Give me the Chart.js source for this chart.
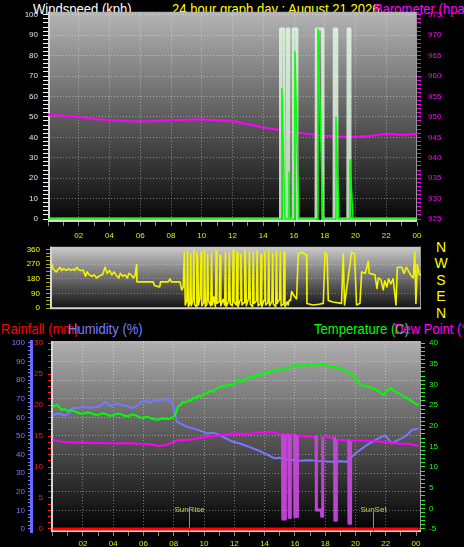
<!DOCTYPE html>
<html>
<head>
<meta charset="utf-8">
<title>24 hour graph</title>
<script src="https://cdn.jsdelivr.net/npm/chart.js@4.4.1/dist/chart.umd.min.js"></script>
<style>
  html, body { margin: 0; padding: 0; background: #000; width: 464px; height: 547px; overflow: hidden; }
  .ttl { position: absolute; z-index: 0; font: 15px/15px "Liberation Sans", Arial, sans-serif; white-space: nowrap; transform: scaleX(0.87); transform-origin: 0 0; }
  canvas { position: absolute; left: 0; z-index: 1; }
  #compass { position: absolute; z-index: 0; left: 433px; top: 239px; width: 16px; text-align: center; font: 14px/16.4px "Liberation Sans", Arial, sans-serif; color: #ffff00; }
</style>
</head>
<body>
<div class="ttl" style="left:33px;top:1px;color:#ffffff">Windspeed (kph)</div>
<div class="ttl" style="left:172px;top:1px;color:#ffff00">24 hour graph day : August 21 2026</div>
<div class="ttl" style="left:374px;top:1px;color:#ff00ff">Barometer (hpa)</div>
<div class="ttl" style="left:1px;top:321px;color:#ff0000">Rainfall (mm)</div>
<div class="ttl" style="left:68px;top:321px;color:#7c7cff">Humidity (%)</div>
<div class="ttl" style="left:314px;top:321px;color:#00ff00">Temperature (C)</div>
<div class="ttl" style="left:394px;top:321px;color:#ff00ff">Dew Point (°C)</div>
<div id="compass">N<br>W<br>S<br>E<br>N</div>

<canvas id="wind" width="464" height="244" style="top:0"></canvas>
<canvas id="direction" width="464" height="84" style="top:236px"></canvas>
<canvas id="temps" width="464" height="231" style="top:316px"></canvas>

<script>
// hours of the day on every x axis
const hourTicks = [0, 1, 2, 3, 4, 5, 6, 7, 8, 9, 10, 11, 12, 13, 14, 15, 16, 17, 18, 19, 20, 21, 22, 23, 24];
const hourLabels = ['', '', '02', '', '04', '', '06', '', '08', '', '10', '', '12', '', '14', '', '16', '', '18', '', '20', '', '22', '', '00'];

// top panel: wind speed, gust, barometer
const windHours = [0, 15.18, 15.21, 15.41, 15.64, 15.67, 15.73, 16.03, 16.06, 16.32, 17.5, 17.56, 17.88, 18.7, 18.73, 18.92, 19.6, 19.64, 19.84, 24];
const windKph = [0, 0, 64, 0, 0, 23, 0, 0, 82, 0, 0, 93, 0, 0, 50, 0, 0, 29, 0, 0];
const gustHours = [0,
  15.10, 15.12, 15.33, 15.35,
  15.54, 15.56, 15.65, 15.67,
  15.93, 15.95, 16.17, 16.19,
  17.43, 17.45, 17.86, 17.88,
  18.60, 18.62, 18.78, 18.80,
  19.50, 19.52, 19.62, 19.64,
  24];
const gustKph = [0,
  0, 93, 93, 0,
  0, 93, 93, 0,
  0, 93, 93, 0,
  0, 93, 93, 0,
  0, 93, 93, 0,
  0, 93, 93, 0,
  0];
const baroHours = [0, 1, 2, 3, 4, 5, 6, 7, 8, 9, 10, 11, 12, 13, 14, 15, 16, 17, 18, 19, 20, 21, 22, 23, 24];
const baroHpa = [950.6, 950.3, 950.0, 949.5, 949.2, 949.0, 948.9, 949.0, 949.2, 949.3, 949.4, 949.2, 949.0,
  948.2, 947.4, 946.8, 946.2, 945.8, 945.4, 945.2, 945.1, 945.4, 945.9, 945.6, 945.8];

// middle panel: wind direction (degrees)
const dirHours = [
  0.05, 0.2, 0.4, 0.55, 0.65, 0.75, 0.9, 1.05, 1.2, 1.35,
  1.5, 1.6, 1.75, 1.85, 2.0, 2.16, 2.3, 2.4, 2.55, 2.7,
  2.85, 3.02, 3.2, 3.4, 3.56, 3.7, 3.85, 4.0, 4.15, 4.3,
  4.45, 4.55, 4.7, 4.85, 5.0, 5.1, 5.25, 5.4, 5.5, 5.6,
  5.62, 6.68, 6.75, 7.1, 7.15, 7.65, 7.76, 7.85, 8.41, 8.52,
  8.62,
  8.69, 8.75, 8.85, 8.9, 8.95, 9.05, 9.1, 9.14, 9.25, 9.3,
  9.35, 9.45, 9.5, 9.56, 9.6, 9.7, 9.78, 9.82, 9.95, 10.0,
  10.05, 10.15, 10.2, 10.25, 10.4, 10.45, 10.5, 10.6, 10.7, 10.75,
  10.8, 10.95, 11.0, 11.05, 11.2, 11.3, 11.35, 11.4, 11.55, 11.6,
  11.66, 11.8, 11.85, 11.9, 12.05, 12.1, 12.16, 12.3, 12.35, 12.42,
  12.55, 12.6, 12.65, 12.7, 12.85, 12.9, 12.96, 13.1, 13.15, 13.2,
  13.35, 13.4, 13.46, 13.6, 13.65, 13.7, 13.85, 13.9, 13.95, 14.1,
  14.15, 14.2, 14.35, 14.4, 14.45, 14.6, 14.65, 14.7, 14.85, 14.9,
  14.95, 15.1, 15.15, 15.2, 15.35, 15.4, 15.48,
  15.56, 15.63, 15.8, 15.95, 16.06, 16.3, 16.6, 16.62, 17.0, 17.4,
  17.68, 17.79, 17.93, 18.0, 18.3, 18.86, 18.97, 19.05, 19.51, 19.7,
  19.83, 20.05, 20.16, 20.4, 20.59, 20.65, 21.02, 21.15, 21.25, 21.4,
  21.56, 21.65, 21.8, 21.9, 22.05, 22.2, 22.38, 22.47, 22.75, 22.9,
  23.05, 23.22, 23.39, 23.5, 23.6, 23.67, 23.76, 23.9, 24.0];
const dirDeg = [
  288, 242, 223, 240, 251, 232, 242, 232, 242, 232,
  240, 232, 251, 235, 232, 232, 196, 223, 205, 196,
  205, 186, 199, 205, 251, 214, 232, 205, 223, 200,
  186, 214, 196, 205, 186, 214, 205, 186, 200, 266,
  162, 162, 140, 131, 162, 162, 181, 162, 162, 113,
  131,
  343, 20, 45, 350, 10, 30, 335, 15, 50, 355,
  25, 10, 340, 300, 20, 60, 345, 15, 35, 350,
  10, 25, 330, 45, 15, 340, 20, 70, 10, 350,
  30, 40, 325, 15, 55, 20, 345, 10, 45, 335,
  25, 15, 355, 40, 20, 340, 10, 50, 330, 20,
  35, 355, 300, 15, 60, 345, 25, 10, 340, 30,
  45, 355, 15, 25, 330, 10, 50, 345, 20, 35,
  355, 15, 40, 335, 25, 10, 350, 30, 55, 340,
  15, 25, 345, 10, 40, 20, 50,
  48, 103, 75, 57, 334, 343, 325, 30, 20, 25,
  30, 343, 325, 48, 39, 30, 334, 20, 343, 334,
  20, 30, 223, 214, 288, 214, 205, 122, 186, 177,
  113, 168, 131, 181, 150, 181, 20, 251, 251, 214,
  251, 223, 196, 186, 343, 30, 270, 205, 205];

// bottom panel: temperature, humidity, dew point, rainfall
const tempHours = [
  0, 0.15, 0.3, 0.45, 0.6, 0.8, 1.0, 1.25, 1.5, 1.75,
  2.0, 2.25, 2.5, 2.75, 3.0, 3.25, 3.5, 3.75, 4.0, 4.25,
  4.5, 4.75, 5.0, 5.25, 5.5, 5.75, 6.0, 6.25, 6.5, 6.75,
  7.0, 7.25, 7.5, 7.75, 8.0, 8.15, 8.3, 8.45, 8.6, 8.8,
  9.0, 9.15, 9.3, 9.45, 9.6, 9.8, 10.0, 10.2, 10.4, 10.6,
  10.8, 11.0, 11.2, 11.4, 11.6, 11.8, 12.0, 12.15, 12.3, 12.45,
  12.6, 12.8, 13.0, 13.2, 13.4, 13.55, 13.7, 13.85, 14.0, 14.2,
  14.4, 14.6, 14.8, 15.0, 15.2, 15.4, 15.6, 15.8, 16.0, 16.2,
  16.4, 16.6, 16.8, 17.0, 17.2, 17.4, 17.6, 17.8, 18.0, 18.2,
  18.4, 18.6, 18.8, 19.0, 19.2, 19.4, 19.6, 19.8, 20.0, 20.15,
  20.3, 20.45, 20.6, 20.8, 21.0, 21.2, 21.4, 21.6, 21.85, 22.05,
  22.3, 22.5, 22.7, 22.9, 23.1, 23.3, 23.5, 23.65, 23.8, 24.0,
  24.17];
const tempC = [
  24.3, 24.9, 25.0, 24.4, 23.8, 24.0, 23.6, 23.7, 23.4, 23.0,
  22.9, 23.2, 23.1, 22.7, 22.6, 23.0, 22.8, 22.4, 22.5, 22.9,
  22.8, 22.4, 22.3, 22.7, 22.5, 22.0, 21.9, 22.2, 21.8, 21.5,
  21.5, 21.8, 21.6, 21.7, 22.2, 23.0, 24.8, 25.0, 25.8, 25.6,
  26.2, 26.0, 26.8, 26.6, 27.2, 27.0, 27.9, 27.7, 28.5, 28.2,
  28.9, 29.3, 29.6, 29.4, 30.0, 29.8, 30.2, 31.0, 31.2, 30.6,
  30.8, 31.6, 31.8, 31.5, 32.3, 32.6, 32.0, 32.8, 33.1, 32.7,
  33.0, 33.5, 33.6, 33.3, 33.7, 34.1, 34.0, 34.3, 34.6, 34.9,
  34.4, 34.6, 34.7, 34.5, 34.6, 34.9, 35.0, 34.9, 34.8, 34.4,
  34.2, 34.3, 33.9, 33.8, 33.4, 33.3, 32.8, 32.2, 31.5, 30.8,
  30.0, 29.8, 29.6, 29.5, 29.2, 29.0, 28.6, 28.1, 27.4, 28.3,
  29.1, 28.6, 28.0, 27.8, 27.2, 26.9, 26.4, 26.0, 25.8, 25.2,
  25.0];
const humHours = [0, 0.4, 0.8, 1.1, 1.25, 1.6, 2.0, 2.5, 3.1, 3.5,
  3.8, 4.2, 4.6, 5.0, 5.3, 5.6, 6.0, 6.4, 6.8, 7.1,
  7.5, 7.8, 8.0, 8.2, 8.5, 8.85, 9.3, 9.7, 10.2, 10.6,
  11.05, 11.5, 11.85, 12.4, 12.95, 13.5, 14.0, 14.4, 14.7, 15.0,
  15.4, 16.25, 17.0, 17.5, 18.45, 19.0, 19.4, 19.7, 20.0, 20.6,
  21.3, 21.95, 22.4, 23.07, 23.4, 23.73, 24.17];
const humPct = [61.3, 62.0, 61.0, 62.4, 64.9, 65.0, 65.6, 65.2, 65.8, 68.4,
  66.0, 67.5, 66.7, 66.0, 64.9, 66.5, 69.0, 68.0, 69.5, 69.0,
  69.9, 68.5, 65.8, 57.7, 56.5, 55.0, 54.1, 53.0, 51.4, 51.8,
  50.5, 48.5, 47.0, 45.8, 44.3, 42.5, 40.7, 39.0, 38.0, 38.3,
  37.5, 36.7, 36.9, 36.5, 36.2, 36.4, 36.2, 38.5, 40.7, 44.3,
  47.8, 50.5, 46.0, 48.8, 50.5, 53.2, 54.1];
const dewHours = [0, 0.5, 1.0, 2.0, 3.0, 4.2, 5.0, 5.6, 6.4, 7.0,
  7.5, 8.2, 9.3, 10.2, 11.05, 11.85, 12.95, 13.5, 14.0, 14.6,
  15.15, 15.18, 15.2, 15.35, 15.37, 15.6, 15.62, 15.68, 15.7, 15.98,
  16.0, 16.15, 16.17, 16.8, 17.4, 17.42, 17.75, 17.77, 17.82, 17.84,
  18.3, 18.62, 18.64, 18.72, 18.74, 19.45, 19.55, 19.57, 19.66, 19.68,
  20.5, 21.0, 21.7, 22.3, 22.85, 23.5, 24.17];
const dewC = [16.5, 16.2, 16.0, 15.9, 15.8, 15.7, 15.8, 15.6, 15.5, 15.1,
  15.3, 16.4, 16.7, 17.3, 17.7, 18.1, 18.0, 18.4, 18.3, 18.5,
  17.7, 17.7, -2.6, -2.6, 17.9, 17.9, -2.2, -2.2, 17.8, 17.8,
  -2.0, -2.0, 17.6, 17.4, 17.3, -0.4, -0.4, -1.9, -1.9, 17.3,
  17.2, 17.0, -2.9, -2.9, 16.6, 16.4, 16.4, -3.6, -3.6, 16.4,
  16.4, 16.3, 16.1, 15.9, 15.6, 15.6, 15.1];
const rainHours = [0, 24.17];
const rainMm = [0, 0];

const sunRiseHour = 9.0;
const sunSetHour = 21.15;

const TICK_FONT = { family: '"Liberation Sans", Arial, sans-serif', size: 8 };
const GRID = 'rgba(255,255,255,0.4)';
const YELLOW = '#e6e600';

const pts = (xs, ys) => xs.map((x, i) => ({ x, y: ys[i] }));
const range = (from, to, step) => {
  const out = [];
  for (let v = from; v <= to + 1e-9; v += step) out.push(Math.round(v * 1000) / 1000);
  return out;
};
const isMajor = (v, m) => Math.abs(v / m - Math.round(v / m)) < 1e-6;

// gradient plot background plus light frame, like the original
const panelBg = {
  id: 'panelBg',
  beforeDraw(chart, args, opts) {
    const { ctx, chartArea: a } = chart;
    const g = ctx.createLinearGradient(0, a.top, 0, a.bottom);
    g.addColorStop(0, opts.top);
    g.addColorStop(1, opts.bottom);
    ctx.save();
    ctx.fillStyle = g;
    ctx.fillRect(a.left, a.top, a.right - a.left, a.bottom - a.top);
    ctx.restore();
  },
  beforeDatasetsDraw(chart) {
    const { ctx, chartArea: a } = chart;
    ctx.save();
    ctx.strokeStyle = '#9a9a9a';
    ctx.lineWidth = 1;
    ctx.beginPath();
    ctx.moveTo(a.right - 0.5, a.top);
    ctx.lineTo(a.right - 0.5, a.bottom);
    ctx.stroke();
    ctx.strokeStyle = '#d4d4d4';
    ctx.lineWidth = 2;
    ctx.beginPath();
    ctx.moveTo(a.left + 1, a.top);
    ctx.lineTo(a.left + 1, a.bottom - 1);
    ctx.lineTo(a.right, a.bottom - 1);
    ctx.stroke();
    ctx.restore();
  },
};

// SunRise / SunSet markers
const sunMarks = {
  id: 'sunMarks',
  beforeDatasetsDraw(chart) {
    const { ctx, chartArea: a, scales: { x } } = chart;
    [[sunRiseHour, 'SunRise'], [sunSetHour, 'SunSet']].forEach(([h, label]) => {
      const px = Math.round(x.getPixelForValue(h)) + 0.5;
      ctx.save();
      ctx.strokeStyle = '#9c9c1c';
      ctx.lineWidth = 1;
      ctx.beginPath();
      ctx.moveTo(px, a.bottom - 20);
      ctx.lineTo(px, a.bottom);
      ctx.stroke();
      ctx.fillStyle = '#d2d228';
      ctx.font = '8px "Liberation Sans", Arial, sans-serif';
      ctx.textAlign = 'center';
      ctx.textBaseline = 'alphabetic';
      ctx.fillText(label, px, a.bottom - 20);
      ctx.restore();
    });
  },
};

function xAxis(o) {
  return {
    type: 'linear',
    display: o.display !== false,
    min: o.min,
    max: o.max,
    afterBuildTicks: (s) => { s.ticks = hourTicks.map((value) => ({ value })); },
    afterFit: (s) => { if (o.height) s.height = o.height; },
    ticks: {
      autoSkip: false, maxRotation: 0, minRotation: 0,
      color: YELLOW, padding: o.pad || 0, font: TICK_FONT,
      callback: (v, i) => hourLabels[i],
    },
    grid: {
      color: (c) => (o.grid && c.tick && c.tick.value % 2 === 0 && c.tick.value > 0 && c.tick.value < 24 ? GRID : 'transparent'),
      tickColor: '#8a8a8a',
      tickLength: 4,
    },
    border: { display: false, dash: [1, 2] },
  };
}

function yAxis(o) {
  return {
    type: 'linear',
    position: o.position,
    weight: o.weight || 0,
    min: o.min,
    max: o.max,
    afterBuildTicks: (s) => { s.ticks = range(o.from, o.to, o.step).map((value) => ({ value })); },
    afterFit: (s) => { s.width = o.width; },
    ticks: {
      autoSkip: false,
      color: o.color,
      padding: o.pad,
      font: TICK_FONT,
      callback: (v) => (isMajor(v, o.major) ? String(v) : ''),
    },
    grid: {
      drawOnChartArea: !!o.grid,
      color: (c) => (o.grid && c.tick && isMajor(c.tick.value, o.major) ? (o.gridColor || GRID) : 'transparent'),
      tickColor: o.tickColor || o.color,
      tickLength: o.tickLen,
    },
    border: o.border
      ? { display: true, color: o.border, width: 3, dash: [1, 2] }
      : { display: false, dash: [1, 2] },
  };
}

function base(o) {
  return {
    responsive: false,
    animation: false,
    events: [],
    elements: { point: { radius: 0 }, line: { tension: 0, borderJoinStyle: 'round' } },
    layout: o.layout,
    plugins: Object.assign({ legend: { display: false }, tooltip: { enabled: false } }, o.plugins),
    scales: o.scales,
  };
}

Chart.defaults.font.family = '"Liberation Sans", Arial, sans-serif';

new Chart(document.getElementById('wind'), {
  type: 'line',
  data: {
    datasets: [
      { label: 'Windspeed', data: pts(windHours, windKph), yAxisID: 'yW', borderColor: '#00ff00', borderWidth: 1.5 },
      { label: 'Gust', data: pts(gustHours, gustKph), yAxisID: 'yW', borderColor: 'rgba(228,255,228,0.8)', borderWidth: 3 },
      { label: 'Barometer', data: pts(baroHours, baroHpa), yAxisID: 'yB', borderColor: '#ff00ff', borderWidth: 2 },
    ],
  },
  options: base({
    layout: { padding: { top: 10 } },
    plugins: { panelBg: { top: '#b4b4b4', bottom: '#060606' } },
    scales: {
      x: xAxis({ min: 0, max: 24, height: 22, pad: 5, grid: true }),
      yW: yAxis({ position: 'left', min: -1.456, max: 101.456, from: 0, to: 100, step: 2, major: 10, width: 48, tickLen: 5, pad: 5, color: '#dde6ff', tickColor: '#ffffff', grid: true }),
      yB: yAxis({ position: 'right', min: 924.272, max: 975.728, from: 925, to: 975, step: 1, major: 5, width: 47, tickLen: 4, pad: 7, color: '#ff00ff' }),
    },
  }),
  plugins: [panelBg],
});

new Chart(document.getElementById('direction'), {
  type: 'line',
  data: {
    datasets: [
      { label: 'Wind direction', data: pts(dirHours, dirDeg), yAxisID: 'y', borderColor: '#f4f400', borderWidth: 1.6 },
    ],
  },
  options: base({
    layout: { padding: { top: 8, bottom: 7, right: 43 } },
    plugins: { panelBg: { top: '#cacaca', bottom: '#101010' } },
    scales: {
      x: xAxis({ min: 0, max: 24, display: false }),
      y: yAxis({ position: 'left', min: -5.54, max: 376.6, from: 0, to: 360, step: 22.5, major: 90, width: 50, tickLen: 4, pad: 6, color: '#ffff00', tickColor: '#a8a800', grid: true, gridColor: 'rgba(255,255,255,0.3)' }),
    },
  }),
  plugins: [panelBg],
});

new Chart(document.getElementById('temps'), {
  type: 'line',
  data: {
    datasets: [
      { label: 'Rainfall', data: pts(rainHours, rainMm), yAxisID: 'yR', borderColor: '#ff0000', borderWidth: 3 },
      {
        label: 'Dew Point', data: pts(dewHours, dewC), yAxisID: 'yT', borderColor: '#ff00ff', borderWidth: 2,
        segment: {
          borderColor: (c) => (c.p0.parsed.y < 10 || c.p1.parsed.y < 10 ? 'rgba(200,70,220,0.95)' : undefined),
          borderWidth: (c) => (c.p0.parsed.y < 10 || c.p1.parsed.y < 10 ? 3 : undefined),
        },
      },
      { label: 'Temperature', data: pts(tempHours, tempC), yAxisID: 'yT', borderColor: '#00ff00', borderWidth: 2 },
      { label: 'Humidity', data: pts(humHours, humPct), yAxisID: 'yH', borderColor: '#7878ff', borderWidth: 2 },
    ],
  },
  options: base({
    layout: { padding: { top: 25 } },
    plugins: { panelBg: { top: '#b0b0b0', bottom: '#000000' } },
    scales: {
      x: xAxis({ min: -0.11, max: 24.33, height: 15, pad: 3, grid: true }),
      yH: yAxis({ position: 'left', weight: 1, min: -1.613, max: 101.075, from: 0, to: 100, step: 2, major: 10, width: 31, tickLen: 3, pad: 3, color: '#7c7cff', grid: true, border: '#6a6aff' }),
      yR: yAxis({ position: 'left', weight: 0, min: -0.484, max: 30.323, from: 0, to: 30, step: 1, major: 5, width: 20, tickLen: 3, pad: 5, color: '#ff1a1a' }),
      yT: yAxis({ position: 'right', min: -5.726, max: 40.484, from: -5, to: 40, step: 1, major: 5, width: 43, tickLen: 4, pad: 4, color: '#1aff1a' }),
    },
  }),
  plugins: [panelBg, sunMarks],
});
</script>
</body>
</html>
